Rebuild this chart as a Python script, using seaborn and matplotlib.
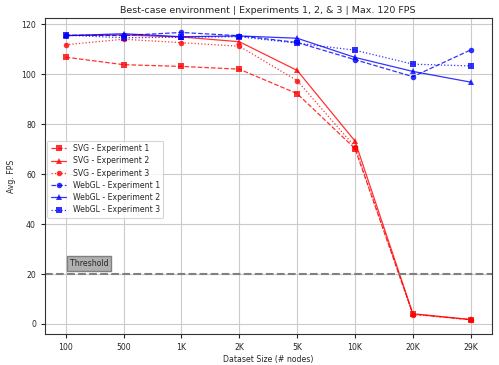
import matplotlib
matplotlib.use("Agg")
import matplotlib.pyplot as plt
import seaborn as sns
import pandas as pd
import numpy as np

sizes = ["100", "500", "1K", "2K", "5K", "10K", "20K", "29K"]
svg_exp1 = [106.9, 103.9, 103.2, 102.1, 92.3, 70.3, 4.0, 1.7]
svg_exp2 = [115.6, 115.8, 115.0, 113.1, 101.6, 73.3, 4.1, 1.8]
svg_exp3 = [111.9, 114.1, 112.7, 111.3, 97.5, 71.0, 3.8, 1.7]
webgl_exp1 = [115.7, 115.6, 116.8, 115.5, 112.8, 105.9, 99.1, 109.8]
webgl_exp2 = [115.5, 116.3, 115.1, 115.4, 114.5, 106.8, 101.2, 96.9]
webgl_exp3 = [115.7, 114.7, 114.9, 115.1, 112.5, 109.7, 104.1, 103.4]
threshold = 20

series = [
    ("SVG - Experiment 1", svg_exp1, "red", "--", "s"),
    ("SVG - Experiment 2", svg_exp2, "red", "-", "^"),
    ("SVG - Experiment 3", svg_exp3, "red", ":", "o"),
    ("WebGL - Experiment 1", webgl_exp1, "blue", "--", "o"),
    ("WebGL - Experiment 2", webgl_exp2, "blue", "-", "^"),
    ("WebGL - Experiment 3", webgl_exp3, "blue", ":", "s"),
]

sns.set_style("ticks")
plt.rcParams["font.family"] = ["DejaVu Sans"]

FS = 5.6

fig, ax = plt.subplots(figsize=(4.99, 3.65), dpi=100)
fig.subplots_adjust(left=0.09, right=0.985, bottom=0.085, top=0.95)

xpos = np.arange(len(sizes))
for name, vals, color, ls, mk in series:
    df = pd.DataFrame({"x": xpos, "y": vals})
    sns.lineplot(data=df, x="x", y="y", ax=ax, color=color, linestyle=ls,
                 marker=mk, markersize=4, markeredgewidth=0, linewidth=0.9,
                 alpha=0.8, label=name)

ax.axhline(threshold, color="gray", linestyle="--", linewidth=1.5)
ax.text(0.07, 24.2, "Threshold", fontsize=FS, va="center", ha="left",
        bbox=dict(facecolor="#b0b0b0", edgecolor="gray", boxstyle="square,pad=0.35"))

ax.set_xticks(xpos)
ax.set_xticklabels(sizes)
ax.set_yticks([0, 20, 40, 60, 80, 100, 120])
ax.tick_params(labelsize=FS, length=3)
ax.set_xlim(-0.36, 7.36)
ax.set_ylim(-4, 122.5)
ax.grid(True, color="#cbcbcb", linewidth=0.8)
ax.set_xlabel("Dataset Size (# nodes)", fontsize=FS, labelpad=2)
ax.set_ylabel("Avg. FPS", fontsize=FS, labelpad=4)
ax.set_title("Best-case environment | Experiments 1, 2, & 3 | Max. 120 FPS", fontsize=6.8, pad=4)
for s in ax.spines.values():
    s.set_color("#333333")
    s.set_linewidth(0.8)

leg = ax.legend(loc="upper left", bbox_to_anchor=(0.0, 0.62), fontsize=FS,
                frameon=True, borderpad=0.45, labelspacing=0.42, handlelength=2.0,
                handletextpad=0.8, borderaxespad=0.3)
leg.get_frame().set_linewidth(0.8)

fig.savefig("out.png", dpi=100)
